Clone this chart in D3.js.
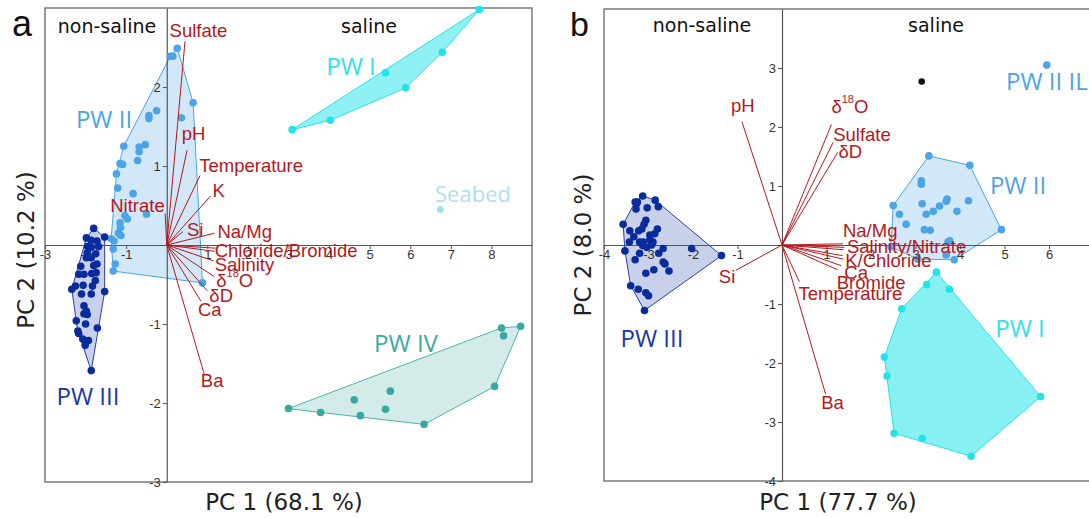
<!DOCTYPE html>
<html>
<head>
<meta charset="utf-8">
<script src="https://cdn.jsdelivr.net/npm/d3@7"></script>
<style>
  body { margin: 0; background: #fff; }
  svg { display: block; }
</style>
</head>
<body>
<svg width="1089" height="518"></svg>
<script>
// ---- data: panel a ----
const ticksAx = [-3, -2, -1, 1, 2, 3, 4, 5, 6, 7, 8];
const ticksAy = [-3, -2, -1, 1, 2];

const pw1A = [[7.70, 2.98], [6.79, 2.44], [5.39, 2.18], [5.89, 1.99], [4.03, 1.58], [3.09, 1.46]];
const pw2A = [[0.26, 2.49], [0.09, 2.39], [0.15, 2.39], [0.65, 1.80], [0.36, 1.61], [-0.25, 1.70],
  [-0.44, 1.64], [-0.44, 1.60], [-1.06, 1.25], [-0.53, 1.27], [-0.68, 1.24], [-0.68, 1.18],
  [-0.72, 1.07], [-1.15, 1.03], [-1.09, 1.02], [-1.24, 0.90], [-1.21, 0.72], [-0.83, 0.65],
  [-0.50, 0.39], [-1.03, 0.37], [-0.97, 0.33], [-1.15, 0.28], [-1.14, 0.22], [-1.19, 0.15],
  [-1.13, 0.12], [-1.37, 0.08], [-1.30, 0.05], [-1.32, -0.05], [-1.27, -0.24], [-1.32, -0.33],
  [0.88, -0.48]];
const pw3A = [[-1.80, 0.21], [-1.98, 0.09], [-1.53, 0.10], [-1.86, 0.06], [-1.72, 0.05], [-1.95, -0.02],
  [-1.86, -0.03], [-1.68, -0.02], [-1.96, -0.10], [-1.75, -0.11], [-1.86, -0.16], [-1.98, -0.16],
  [-1.72, -0.24], [-1.80, -0.26], [-2.12, -0.27], [-2.17, -0.37], [-2.04, -0.37], [-1.85, -0.36],
  [-1.74, -0.35], [-1.76, -0.45], [-2.34, -0.56], [-2.25, -0.52], [-2.06, -0.51], [-1.83, -0.52],
  [-1.53, -0.59], [-2.10, -0.62], [-1.86, -0.62], [-2.04, -0.77], [-1.98, -0.84], [-2.04, -0.87],
  [-1.96, -0.88], [-2.23, -0.96], [-2.00, -1.00], [-1.71, -1.05], [-2.19, -1.09], [-2.17, -1.12],
  [-2.07, -1.19], [-1.93, -1.21], [-2.01, -1.27], [-1.86, -1.59]];
const pw4A = [[8.25, -1.05], [8.72, -1.03], [8.30, -1.15], [8.08, -1.79], [5.51, -1.85], [4.62, -1.96],
  [5.39, -2.08], [4.77, -2.16], [3.79, -2.12], [3.00, -2.07], [6.34, -2.27]];
const seabedA = [[6.74, 0.45]];

const loadA_names = ['Sulfate', 'pH', 'Temperature', 'K', 'Nitrate', 'Si', 'Na/Mg', 'Chloride',
  'Bromide', 'Salinity', 'δ18O', 'δD', 'Ca', 'Ba'];
const loadA_x = [0.45, 0.50, 0.82, 1.08, -0.04, 0.40, 1.18, 1.20, 1.18, 1.15, 1.17, 1.00, 0.84, 0.92];
const loadA_y = [2.58, 1.20, 0.88, 0.62, 0.40, 0.17, 0.15, -0.04, -0.08, -0.20, -0.40, -0.58, -0.71, -1.63];

// ---- data: panel b ----
const ticksBx = [-4, -3, -2, -1, 1, 2, 3, 4, 5, 6];
const ticksBy = [-4, -3, -2, -1, 1, 2, 3];

const pw1B = [[3.47, -0.46], [3.25, -0.67], [3.76, -0.75], [2.69, -1.08], [2.30, -1.90], [2.36, -2.22],
  [5.81, -2.57], [2.52, -3.19], [3.15, -3.28], [4.25, -3.58]];
const pw2B = [[3.30, 1.51], [4.22, 1.35], [4.93, 0.26], [2.50, 0.67], [3.13, 1.09], [3.13, 1.03],
  [2.64, 0.52], [2.79, 0.35], [3.15, 0.70], [3.24, 0.52], [3.40, 0.57], [3.54, 0.66], [3.69, 0.74],
  [3.71, 0.78], [3.93, 0.57], [4.19, 0.75], [3.20, 0.26], [3.33, 0.25], [3.77, 0.07], [3.73, 0.05],
  [3.69, -0.17], [3.87, -0.25], [2.45, -0.03], [3.05, -0.24]];
const pw3B = [[-3.13, 0.83], [-3.30, 0.73], [-3.27, 0.70], [-3.25, 0.73], [-2.85, 0.76], [-2.78, 0.65],
  [-3.28, 0.61], [-3.03, 0.63], [-3.57, 0.35], [-3.06, 0.42], [-3.10, 0.35], [-3.15, 0.27],
  [-3.22, 0.24], [-3.42, 0.24], [-2.80, 0.27], [-2.86, 0.19], [-2.97, 0.17], [-2.97, 0.09],
  [-3.33, 0.14], [-3.43, 0.05], [-3.20, 0.05], [-3.12, 0.05], [-2.90, 0.05], [-2.93, 0.00],
  [-3.13, -0.01], [-3.04, -0.04], [-3.53, -0.10], [-2.67, -0.06], [-3.20, -0.14], [-2.77, -0.14],
  [-2.03, -0.06], [-3.30, -0.25], [-2.67, -0.29], [-2.63, -0.32], [-2.88, -0.42], [-3.06, -0.48],
  [-2.54, -0.44], [-1.36, -0.18], [-3.40, -0.69], [-3.23, -0.75], [-3.06, -0.81], [-3.00, -0.86],
  [-3.09, -1.11]];
const pw2ilB = [[5.95, 3.05]];
const otherB = [[3.14, 2.77]];

const loadB_names = ['pH', 'δ18O', 'Sulfate', 'δD', 'Na/Mg', 'Salinity', 'Nitrate', 'K', 'Chloride',
  'Ca', 'Bromide', 'Temperature', 'Ba', 'Si'];
const loadB_x = [-0.90, 1.11, 1.15, 1.25, 1.37, 1.40, 1.38, 1.36, 1.38, 1.33, 1.25, 0.39, 0.98, -1.04];
const loadB_y = [2.09, 2.04, 1.74, 1.57, 0.02, -0.04, -0.08, -0.18, -0.24, -0.35, -0.42, -0.62, -2.53, -0.43];

// ---- layout ----
const RED = '#b5171c';
const col = {
  pw1: '#22e3ea', pw2: '#4ba4e8', pw3: '#0a2b9b', pw4: '#36a89d', sea: '#a9e0e8'
};

// label anchors for loadings (data units)
const labA = {
  'Sulfate': [0.07, 2.71, 'start'], 'pH': [0.37, 1.41, 'start'], 'Temperature': [0.80, 1.01, 'start'],
  'K': [1.13, 0.69, 'start'], 'Nitrate': [-0.05, 0.50, 'end'], 'Si': [0.50, 0.20, 'start'],
  'Na/Mg': [1.25, 0.17, 'start'], 'Chloride': [1.18, -0.07, 'start', 'Chloride/Bromide'],
  'Salinity': [1.18, -0.25, 'start'], 'δ18O': [1.22, -0.44, 'start'], 'δD': [1.05, -0.64, 'start'],
  'Ca': [0.77, -0.82, 'start'], 'Ba': [0.84, -1.72, 'start']
};
const labB = {
  'pH': [-0.88, 2.36, 'middle'], 'δ18O': [1.11, 2.35, 'start'], 'Sulfate': [1.15, 1.87, 'start'],
  'δD': [1.27, 1.58, 'start'], 'Na/Mg': [1.37, 0.24, 'start'],
  'Salinity': [1.46, -0.02, 'start', 'Salinity/Nitrate'], 'K': [1.42, -0.27, 'start', 'K/Chloride'],
  'Ca': [1.40, -0.47, 'start'], 'Bromide': [1.23, -0.63, 'start'],
  'Temperature': [0.37, -0.83, 'start'], 'Ba': [0.88, -2.67, 'start'], 'Si': [-1.05, -0.53, 'end']
};

const svg = d3.select('svg');

function drawPanel(cfg) {
  const g = svg.append('g');
  const x = d3.scaleLinear().domain(cfg.xDomain).range(cfg.xRange);
  const y = d3.scaleLinear().domain(cfg.yDomain).range(cfg.yRange);

  // hulls
  cfg.groups.filter(d => d.hull).forEach(grp => {
    const hull = d3.polygonHull(grp.pts.map(p => [x(p[0]), y(p[1])]));
    g.append('path')
      .attr('d', 'M' + hull.join('L') + 'Z')
      .attr('fill', grp.color)
      .attr('fill-opacity', grp.op)
      .attr('stroke', grp.stroke || grp.color)
      .attr('stroke-width', 1);
  });

  // frame
  g.append('rect')
    .attr('x', cfg.xRange[0]).attr('y', cfg.yRange[1])
    .attr('width', cfg.xRange[1] - cfg.xRange[0])
    .attr('height', cfg.yRange[0] - cfg.yRange[1])
    .attr('fill', 'none').attr('stroke', '#666').attr('stroke-width', 1.3);

  // axes through origin
  const ax = g.append('g')
    .attr('transform', `translate(0,${y(0)})`)
    .call(d3.axisBottom(x).tickValues(cfg.xTicks).tickSize(4).tickSizeOuter(0).tickPadding(1)
      .tickFormat(d => String(d)));
  const ay = g.append('g')
    .attr('transform', `translate(${x(0)},0)`)
    .call(d3.axisLeft(y).tickValues(cfg.yTicks).tickSize(4).tickSizeOuter(0).tickPadding(2)
      .tickFormat(d => String(d)));
  [ax, ay].forEach(a => {
    a.select('.domain').attr('stroke', '#555').attr('stroke-width', 1.2);
    a.selectAll('.tick line').attr('stroke', '#555');
    a.selectAll('.tick text').attr('fill', '#333')
      .style('font-family', 'Liberation Sans, Arial, sans-serif').style('font-size', '13px');
  });

  // points
  cfg.groups.forEach(grp => {
    g.selectAll(null).data(grp.pts).enter().append('circle')
      .attr('cx', d => x(d[0])).attr('cy', d => y(d[1]))
      .attr('r', grp.r || 3.8)
      .attr('fill', grp.color);
  });

  // loadings
  cfg.names.forEach((n, i) => {
    g.append('line')
      .attr('x1', x(0)).attr('y1', y(0))
      .attr('x2', x(cfg.lx[i])).attr('y2', y(cfg.ly[i]))
      .attr('stroke', RED).attr('stroke-width', 1);
  });
  Object.keys(cfg.labels).forEach(n => {
    const l = cfg.labels[n];
    const txt = l[3] || n;
    const t = g.append('text')
      .attr('x', x(l[0])).attr('y', y(l[1]))
      .attr('text-anchor', l[2])
      .attr('dominant-baseline', 'central')
      .attr('fill', RED)
      .style('font-family', 'Liberation Sans, Arial, sans-serif')
      .style('font-size', '18.5px');
    if (txt === 'δ18O') {
      t.append('tspan').text('δ');
      t.append('tspan').attr('dy', -7).style('font-size', '11px').text('18');
      t.append('tspan').attr('dy', 7).text('O');
    } else {
      t.text(txt);
    }
  });

  // group labels
  cfg.texts.forEach(tx => {
    g.append('text')
      .attr('x', tx.x).attr('y', tx.y)
      .attr('text-anchor', tx.anchor || 'middle')
      .attr('fill', tx.color)
      .style('font-family', tx.font || 'Open Sans, sans-serif')
      .style('font-size', tx.size + 'px')
      .text(tx.t);
  });

  // axis titles
  g.append('text')
    .attr('x', cfg.xTitle[0]).attr('y', cfg.xTitle[1])
    .attr('text-anchor', 'middle').attr('fill', '#222')
    .style('font-family', 'DejaVu Sans, sans-serif').style('font-size', '23px')
    .text(cfg.xTitle[2]);
  g.append('text')
    .attr('transform', `translate(${cfg.yTitle[0]},${cfg.yTitle[1]}) rotate(-90)`)
    .attr('text-anchor', 'middle').attr('fill', '#222')
    .style('font-family', 'DejaVu Sans, sans-serif').style('font-size', '23px')
    .text(cfg.yTitle[2]);
}

drawPanel({
  xDomain: [-3, 9], xRange: [45, 532],
  yDomain: [-3, 3], yRange: [482, 8],
  xTicks: ticksAx, yTicks: ticksAy,
  groups: [
    { pts: pw2A, color: col.pw2, op: 0.25, hull: true },
    { pts: pw3A, color: col.pw3, op: 0.22, hull: true, stroke: '#2a3fa5' },
    { pts: pw4A, color: col.pw4, op: 0.22, hull: true, stroke: '#4bb4a9' },
    { pts: pw1A, color: col.pw1, op: 0.5, hull: true },
    { pts: seabedA, color: col.sea, r: 3.5 }
  ],
  names: loadA_names, lx: loadA_x, ly: loadA_y, labels: labA,
  texts: [
    { t: 'a', x: 12, y: 36, size: 36, color: '#111', anchor: 'start', font: 'Liberation Sans, Arial, sans-serif' },
    { t: 'non-saline', x: 107, y: 33, size: 19, color: '#111', font: 'DejaVu Sans, sans-serif' },
    { t: 'saline', x: 369, y: 33, size: 19, color: '#111', font: 'DejaVu Sans, sans-serif' },
    { t: 'PW I', x: 351, y: 75, size: 24, color: '#2de2ea' },
    { t: 'PW II', x: 104, y: 128, size: 24, color: col.pw2 },
    { t: 'Seabed', x: 473, y: 202, size: 22, color: '#aee0e8' },
    { t: 'PW IV', x: 406, y: 352, size: 24, color: '#3aaaa0' },
    { t: 'PW III', x: 88, y: 405, size: 24, color: '#1a36a8' }
  ],
  xTitle: [284, 510, 'PC 1 (68.1 %)'],
  yTitle: [34, 250, 'PC 2 (10.2 %)']
});

drawPanel({
  xDomain: [-4, 7], xRange: [604, 1093.5],
  yDomain: [-4, 4], yRange: [481, 9],
  xTicks: ticksBx, yTicks: ticksBy,
  groups: [
    { pts: pw3B, color: col.pw3, op: 0.22, hull: true, stroke: '#2a3fa5' },
    { pts: pw2B, color: col.pw2, op: 0.25, hull: true },
    { pts: pw1B, color: col.pw1, op: 0.55, hull: true },
    { pts: pw2ilB, color: col.pw2 },
    { pts: otherB, color: '#111', r: 3.3 }
  ],
  names: loadB_names, lx: loadB_x, ly: loadB_y, labels: labB,
  texts: [
    { t: 'b', x: 570, y: 36, size: 34, color: '#111', anchor: 'start', font: 'Liberation Sans, Arial, sans-serif' },
    { t: 'non-saline', x: 702, y: 32, size: 19, color: '#111', font: 'DejaVu Sans, sans-serif' },
    { t: 'saline', x: 936, y: 32, size: 19, color: '#111', font: 'DejaVu Sans, sans-serif' },
    { t: 'PW II IL', x: 1006, y: 90, size: 24, color: col.pw2, anchor: 'start' },
    { t: 'PW II', x: 1018, y: 194, size: 24, color: col.pw2 },
    { t: 'PW I', x: 1020, y: 337, size: 24, color: '#2de2ea' },
    { t: 'PW III', x: 652, y: 347, size: 24, color: '#1a36a8' }
  ],
  xTitle: [838, 510, 'PC 1 (77.7 %)'],
  yTitle: [591, 245, 'PC 2 (8.0 %)']
});
</script>
</body>
</html>
